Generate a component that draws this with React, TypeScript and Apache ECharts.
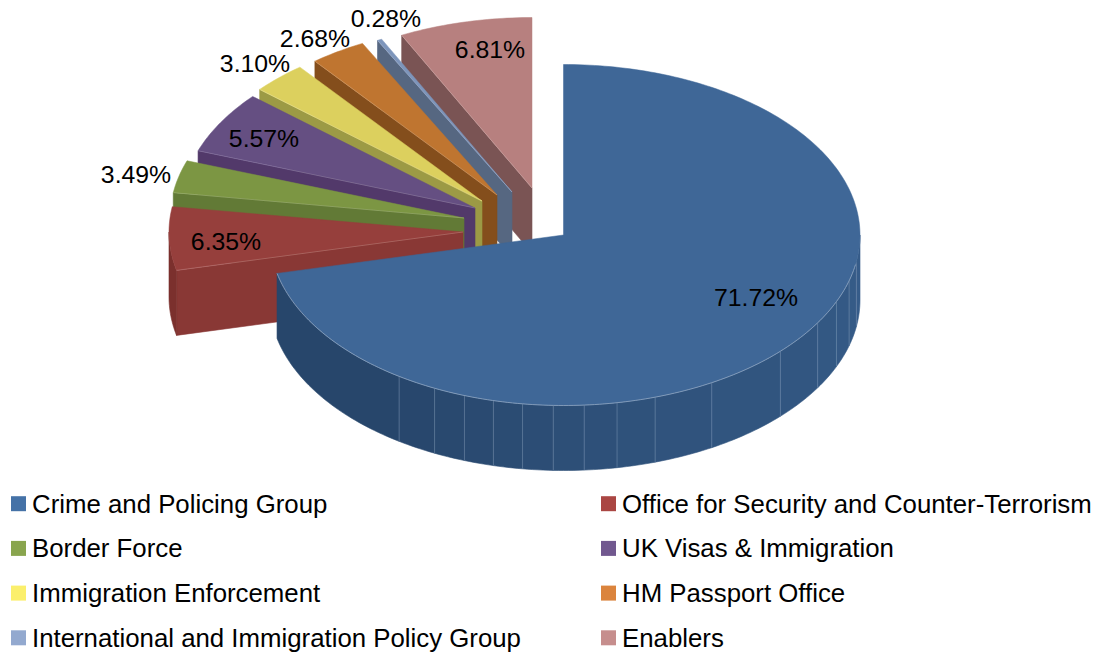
import React, { useEffect, useRef } from "react";
import * as echarts from "echarts";

const categories = [
  "Crime and Policing Group",
  "Office for Security and Counter-Terrorism",
  "Border Force",
  "UK Visas & Immigration",
  "Immigration Enforcement",
  "HM Passport Office",
  "International and Immigration Policy Group",
  "Enablers",
];
const shares = [71.72, 6.35, 3.49, 5.57, 3.1, 2.68, 0.28, 6.81];

const legendColors = ["#4572A7", "#AA4643", "#89A54E", "#71588F", "#FBEF6C", "#DB843D", "#93A9CF", "#C68E8D"];
const topColors = ["#3F6797", "#963F3C", "#7C9643", "#654F82", "#DCD05E", "#BF7530", "#7D95BB", "#B7807F"];
const wallColors = ["#28476D", "#893835", "#627A36", "#52396A", "#9C9A45", "#844E1C", "#566781", "#7A5454"];
const rimColors = ["#8FA5C0", "#C98F8C", "#A9BC85", "#9A8AB0", "#EDE7A5", "#DDAE80", "#AEBDD6", "#D8B6B5"];

// pie geometry (projected ellipse)
const CX = 563.5, CY = 235, RX_RIGHT = 296.5, RX_LEFT = 294, RY = 170.5, DEPTH = 65;
// how far each slice is pulled out of the pie
const explode: number[][] = [[0, 0], [-100.5, -3], [-99.5, -17], [-88.5, -27], [-81.5, -34], [-66.5, -40], [-51.5, -43], [-31.5, -47]];
// small perspective correction at each slice boundary, degrees
const skew = [0, -1.2, -2.5, -4, -2.8, -3.1, -1.7, -1.8, 0];
const labelSpots: number[][] = [[756, 297], [226, 241], [136, 174], [264, 138], [255, 63], [315, 38], [386, 18], [490, 49]];
const facetAngles = [214, 206, 199.7, 193.8, 188, 182, 176, 169.6, 162, 150, 133, 121, 113, 105.6, 99];

const FONT = '"Liberation Sans", Arial, sans-serif';
const bounds: number[] = [0];
shares.forEach((s) => bounds.push(bounds[bounds.length - 1] + (s / 100) * 360));
const edge = (i: number) => bounds[i] + skew[i];

function pt(i: number, deg: number, dy = 0): number[] {
  const a = (deg * Math.PI) / 180;
  const sin = Math.sin(a);
  return [CX + explode[i][0] + (sin < 0 ? RX_LEFT : RX_RIGHT) * sin, CY + explode[i][1] - RY * Math.cos(a) + dy];
}
function arc(i: number, from: number, to: number, dy = 0): number[][] {
  const n = Math.max(2, Math.ceil(Math.abs(to - from)));
  const out: number[][] = [];
  for (let k = 0; k <= n; k++) out.push(pt(i, from + ((to - from) * k) / n, dy));
  return out;
}
function mix(a: string, b: string, t: number) {
  const p = (c: string, s: number) => parseInt(c.slice(s, s + 2), 16);
  const ch = [1, 3, 5].map((s) => Math.round(p(a, s) + (p(b, s) - p(a, s)) * t));
  return `rgb(${ch.join(",")})`;
}

function sliceElement(i: number) {
  const from = edge(i), to = edge(i + 1);
  const apex = [CX + explode[i][0], CY + explode[i][1]];
  const apexLow = [apex[0], apex[1] + DEPTH];
  const start = pt(i, from), startLow = pt(i, from, DEPTH);
  const kids: any[] = [];
  const poly = (points: number[][], fill: string) => ({
    type: "polygon",
    shape: { points },
    style: { fill, stroke: fill, lineWidth: 0.6 },
  });

  // radial wall under the leading edge
  if (i > 0) kids.push(poly([start, apex, apexLow, startLow], wallColors[i]));

  // outer wall, where it faces the viewer
  if (i === 0) {
    const stops = [to, ...facetAngles, 90];
    for (let k = 0; k < stops.length - 1; k++) {
      const fill = mix("#27466B", "#365C89", k / (stops.length - 2));
      kids.push(poly([...arc(0, stops[k], stops[k + 1]), ...arc(0, stops[k + 1], stops[k], DEPTH)], fill));
    }
    facetAngles.forEach((d) => {
      const a = pt(0, d), b = pt(0, d, DEPTH);
      kids.push({
        type: "line",
        shape: { x1: a[0], y1: a[1], x2: b[0], y2: b[1] },
        style: { stroke: "#8FA5C0", lineWidth: 0.8, opacity: 0.5 },
      });
    });
  } else if (from < 270) {
    const vis = Math.min(to, 270);
    kids.push(poly([...arc(i, from, vis), ...arc(i, vis, from, DEPTH)], "#7B302D"));
  }

  // top face
  kids.push({
    type: "polygon",
    shape: { points: [apex, ...arc(i, from, to)] },
    style: { fill: topColors[i], stroke: topColors[i], lineWidth: 0.5 },
  });

  // light rim along the exposed edges
  if (i === 0) {
    kids.push({
      type: "polyline",
      shape: { points: arc(0, to, 100) },
      style: { stroke: rimColors[0], lineWidth: 1, fill: "none", opacity: 0.8 },
    });
  } else {
    kids.push({
      type: "line",
      shape: { x1: start[0], y1: start[1], x2: apex[0], y2: apex[1] },
      style: { stroke: rimColors[i], lineWidth: 0.8, opacity: 0.55 },
    });
  }

  kids.push({
    type: "text",
    z2: 50,
    style: {
      text: `${shares[i].toFixed(2)}%`,
      x: labelSpots[i][0],
      y: labelSpots[i][1],
      fill: "#000",
      font: `24.8px ${FONT}`,
      textAlign: "center",
      textVerticalAlign: "middle",
    },
  });
  return { type: "group", children: kids };
}

function legendOf(names: number[], left: number) {
  return {
    orient: "vertical" as const,
    left,
    top: 490.7,
    padding: 0,
    itemWidth: 15,
    itemHeight: 15,
    itemGap: 18.7,
    selectedMode: false,
    icon: "rect",
    textStyle: { fontFamily: FONT, fontSize: 25.8, color: "#000", lineHeight: 25, padding: [0, 0, 0, 1] },
    data: names.map((n) => ({ name: categories[n], itemStyle: { color: legendColors[n] } })),
  };
}

export default function App() {
  const ref = useRef<HTMLDivElement>(null);
  useEffect(() => {
    const chart = echarts.init(ref.current!, undefined, { renderer: "svg" });
    chart.setOption({
      animation: false,
      backgroundColor: "#fff",
      legend: [legendOf([0, 2, 4, 6], 11), legendOf([1, 3, 5, 7], 601)],
      series: categories.map((name, i) => ({
        type: "custom",
        name,
        coordinateSystem: "none",
        silent: true,
        z: i === 0 ? 20 : 10 - i,
        itemStyle: { color: legendColors[i] },
        data: [[shares[i]]],
        renderItem: () => sliceElement(i),
      })),
    });
    return () => chart.dispose();
  }, []);
  return <div ref={ref} style={{ position: "fixed", left: 0, top: 0, width: 1102, height: 655 }} />;
}
